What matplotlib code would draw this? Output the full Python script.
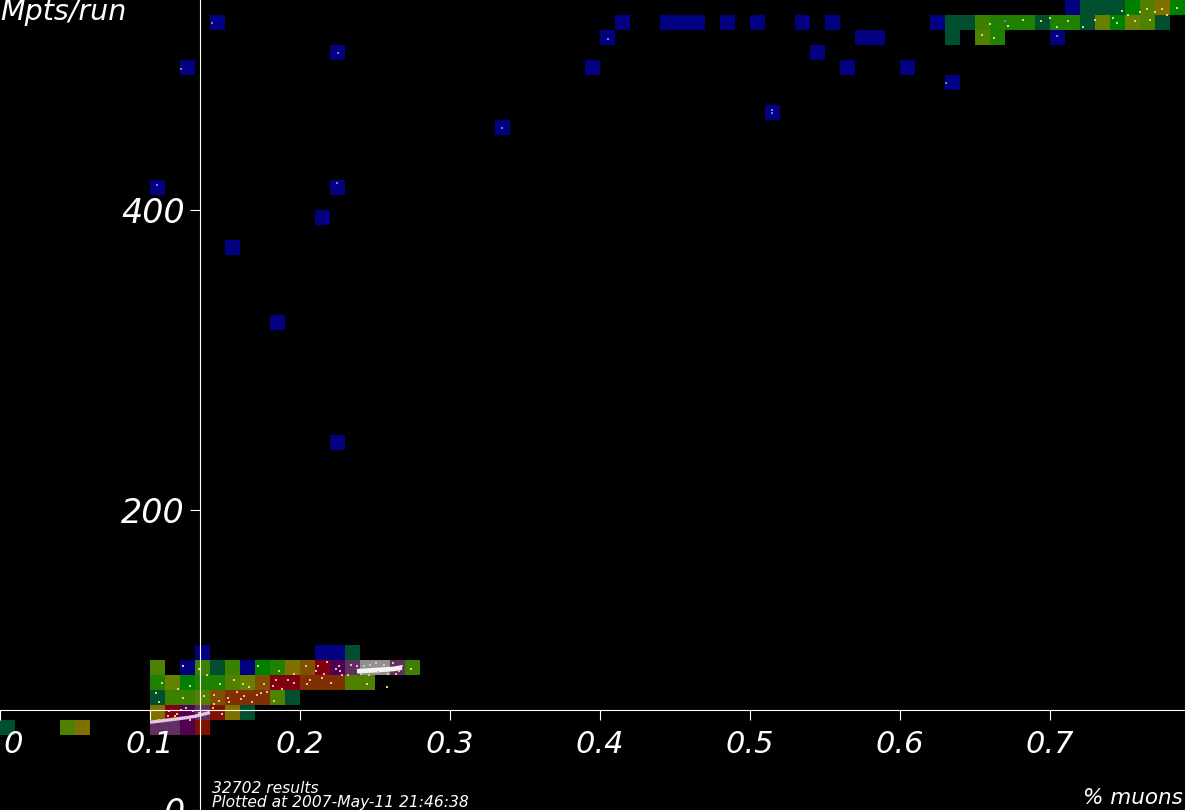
import matplotlib
matplotlib.use("Agg")
import matplotlib.pyplot as plt
import numpy as np
from matplotlib.colors import ListedColormap, BoundaryNorm

# density level -> colour
level_colors = ["#000080", "#005030", "#008000", "#208000", "#3c8000", "#508000", "#688000",
                "#807000", "#805000", "#803000", "#801000", "#800010", "#500050", "#603060", "#909090"]

# one entry per bin: left edge in % muons, lower edge in Mpts/run, density level
bin_muons = [0.14, 0.12, 0.22, 0.10, 0.22, 0.21, 0.15, 0.18, 0.22, 0.33, 0.51, 0.39, 0.40, 0.41,
             0.44, 0.45, 0.46, 0.48, 0.50, 0.53, 0.55, 0.54, 0.56, 0.57, 0.58, 0.60, 0.62, 0.63,
             0.70, 0.71,
             0.72, 0.73, 0.74, 0.75, 0.76, 0.77, 0.78,
             0.63, 0.64, 0.65, 0.66, 0.67, 0.68, 0.69, 0.70, 0.71, 0.72, 0.73, 0.74, 0.75, 0.76, 0.77,
             0.63, 0.65, 0.66,
             0.13, 0.21, 0.22, 0.23,
             0.10, 0.12, 0.13, 0.14, 0.15, 0.16, 0.17, 0.18, 0.19, 0.20, 0.21, 0.22, 0.23, 0.24, 0.25, 0.26, 0.27,
             0.10, 0.11, 0.12, 0.13, 0.14, 0.15, 0.16, 0.17, 0.18, 0.19, 0.20, 0.21, 0.22, 0.23, 0.24,
             0.10, 0.11, 0.12, 0.13, 0.14, 0.15, 0.16, 0.17, 0.18, 0.19,
             0.10, 0.11, 0.12, 0.13, 0.14, 0.15, 0.16,
             0.10, 0.11, 0.12, 0.13,
             0.00, 0.04, 0.05]
bin_mpts = [520, 490, 500, 410, 410, 390, 370, 320, 240, 450, 460, 490, 510, 520,
            520, 520, 520, 520, 520, 520, 520, 500, 490, 510, 510, 490, 520, 480,
            510, 530,
            530, 530, 530, 530, 530, 530, 530,
            520, 520, 520, 520, 520, 520, 520, 520, 520, 520, 520, 520, 520, 520, 520,
            510, 510, 510,
            100, 100, 100, 100,
            90, 90, 90, 90, 90, 90, 90, 90, 90, 90, 90, 90, 90, 90, 90, 90, 90,
            80, 80, 80, 80, 80, 80, 80, 80, 80, 80, 80, 80, 80, 80, 80,
            70, 70, 70, 70, 70, 70, 70, 70, 70, 70,
            60, 60, 60, 60, 60, 60, 60,
            50, 50, 50, 50,
            50, 50, 50]
bin_level = [1, 1, 1, 1, 1, 1, 1, 1, 1, 1, 1, 1, 1, 1,
             1, 1, 1, 1, 1, 1, 1, 1, 1, 1, 1, 1, 1, 1,
             1, 1,
             2, 2, 2, 3, 6, 8, 3,
             2, 2, 5, 4, 4, 4, 2, 4, 4, 2, 7, 3, 7, 6, 2,
             2, 6, 4,
             1, 1, 1, 2,
             6, 1, 5, 2, 5, 1, 3, 4, 8, 9, 12, 13, 14, 15, 15, 14, 5,
             4, 7, 3, 4, 4, 6, 7, 9, 12, 12, 10, 10, 10, 6, 6,
             2, 5, 5, 6, 9, 10, 10, 10, 6, 2,
             8, 12, 13, 14, 11, 8, 2,
             14, 14, 13, 11,
             2, 6, 8]

# bright streaks of dense points
streak_a_x = [0.100, 0.108, 0.116, 0.124, 0.130, 0.136, 0.140]
streak_a_y = [58.5, 59.5, 60.5, 61.5, 62.5, 64.0, 65.0]
streak_b_x = [0.238, 0.246, 0.254, 0.262, 0.268]
streak_b_y = [92.5, 93.0, 93.5, 94.0, 95.0]

# isolated points, warm ones lie in the red and purple bins
warm_x = [0.113, 0.117, 0.121, 0.127, 0.133, 0.118, 0.124, 0.129, 0.112, 0.146, 0.152, 0.143, 0.158, 0.163,
          0.171, 0.176, 0.168, 0.153, 0.161, 0.174, 0.184, 0.188, 0.196, 0.182, 0.192, 0.178, 0.205, 0.212,
          0.216, 0.224, 0.228, 0.234, 0.207, 0.215, 0.221, 0.226, 0.218, 0.211, 0.204, 0.227, 0.232, 0.238,
          0.243, 0.252, 0.256, 0.246, 0.264, 0.268, 0.262, 0.247, 0.259, 0.241, 0.251, 0.266, 0.142, 0.148]
warm_y = [66.0, 63.0, 67.0, 60.0, 65.0, 64.0, 68.0, 66.0, 63.0, 73.0, 75.0, 77.0, 79.0, 76.0,
          77.0, 84.0, 72.0, 72.0, 74.0, 78.0, 87.0, 81.0, 85.0, 83.0, 87.0, 79.0, 84.0, 96.0,
          91.0, 94.0, 90.0, 97.0, 87.0, 88.0, 85.0, 96.0, 99.0, 93.0, 96.0, 93.0, 90.0, 96.0,
          96.0, 92.0, 97.0, 90.0, 91.0, 96.0, 98.0, 97.0, 91.0, 91.0, 98.0, 93.0, 68.0, 64.0]
cool_x = [0.104, 0.108, 0.106, 0.119, 0.127, 0.133, 0.138, 0.147, 0.156, 0.166, 0.172, 0.186, 0.143, 0.136,
          0.122, 0.106, 0.116, 0.196, 0.245, 0.258, 0.274, 0.183, 0.122, 0.162,
          0.660, 0.670, 0.682, 0.700, 0.705, 0.730, 0.745, 0.752, 0.760, 0.765, 0.770, 0.775, 0.785,
          0.655, 0.663, 0.672, 0.694, 0.712, 0.722, 0.742, 0.757, 0.748, 0.767, 0.778]
cool_y = [78.0, 85.0, 72.0, 81.0, 83.0, 94.0, 90.0, 84.0, 87.0, 82.0, 96.0, 93.0, 71.0, 76.0,
          75.0, 60.0, 61.0, 91.0, 84.0, 82.0, 94.0, 73.0, 96.0, 84.0,
          524.0, 526.0, 527.0, 528.0, 522.0, 527.0, 525.0, 530.0, 532.0, 534.0, 532.0, 534.0, 535.0,
          517.0, 515.0, 523.0, 526.0, 526.0, 522.0, 528.0, 526.0, 533.0, 527.0, 530.0]
faint_x = [0.1412, 0.1205, 0.1050, 0.2250, 0.2255, 0.3350, 0.5150, 0.6305, 0.5150, 0.4050, 0.6700, 0.7050]
faint_y = [525.0, 494.0, 417.0, 418.0, 505.0, 455.0, 465.0, 485.0, 467.0, 514.0, 526.0, 516.0]

x_ticks = [0.0, 0.1, 0.2, 0.3, 0.4, 0.5, 0.6, 0.7]
x_tick_labels = ["0.0", "0.1", "0.2", "0.3", "0.4", "0.5", "0.6", "0.7"]
y_ticks = [0, 200, 400]

plt.rcParams["font.family"] = "DejaVu Sans"
fig = plt.figure(figsize=(11.85, 8.10), dpi=100, facecolor="black")
ax = fig.add_axes([0, 0, 1, 1], facecolor="black")

x_edges = np.arange(0, 0.80 + 1e-9, 0.01)
y_edges = np.arange(0, 550, 10)
grid = np.full((len(y_edges) - 1, len(x_edges) - 1), np.nan)
for m, p, l in zip(bin_muons, bin_mpts, bin_level):
    grid[int(round(p / 10)), int(round(m * 100))] = l
cmap = ListedColormap(level_colors)
norm = BoundaryNorm(np.arange(0.5, len(level_colors) + 1), cmap.N)
ax.pcolormesh(x_edges, y_edges, np.ma.masked_invalid(grid), cmap=cmap, norm=norm,
              antialiased=False, linewidth=0, zorder=1)

ax.plot(streak_a_x, streak_a_y, color="#e8c4e8", lw=2.4, zorder=2, solid_capstyle="butt")
ax.plot(streak_b_x, streak_b_y, color="#f4f4f4", lw=3.4, zorder=2, solid_capstyle="butt")
ax.scatter(warm_x, warm_y, s=1.1, color="#f0b8a8", marker="s", linewidths=0, zorder=2)
ax.scatter(cool_x, cool_y, s=1.1, color="#d0e070", marker="s", linewidths=0, zorder=2)
ax.scatter(faint_x, faint_y, s=0.8, color="#7080e0", marker="s", linewidths=0, zorder=2)

ax.set_xlim(0, 0.79)
ax.set_ylim(0, 540)
ax.spines["top"].set_visible(False)
ax.spines["right"].set_visible(False)
ax.spines["bottom"].set_position(("data", 66.67))
ax.spines["left"].set_position(("data", 0.1333))
for side in ("bottom", "left"):
    ax.spines[side].set_color("white")
    ax.spines[side].set_linewidth(0.8)
    ax.spines[side].set_zorder(5)
ax.set_xticks(x_ticks, x_tick_labels)
ax.set_yticks(y_ticks, [str(v) for v in y_ticks])
ax.tick_params(axis="x", direction="out", length=7.2, width=0.8, color="white", labelcolor="white",
               labelsize=22, pad=7)
ax.tick_params(axis="y", direction="out", length=7.2, width=0.8, color="white", labelcolor="white",
               labelsize=24, pad=3.5)
for t in ax.get_xticklabels() + ax.get_yticklabels():
    t.set_style("italic")

ax.text(0, 1 - 20 / 810, "Mpts/run", transform=ax.transAxes, ha="left", va="baseline", color="white",
        fontsize=20.5, style="italic")
ax.text(1183 / 1185, 1 - 804 / 810, "% muons", transform=ax.transAxes, ha="right", va="baseline",
        color="white", fontsize=15.5, style="italic")
ax.text(212 / 1185, 1 - 788.5 / 810, "32702 results", transform=ax.transAxes, ha="left", va="center",
        color="white", fontsize=11.2, style="italic")
ax.text(212 / 1185, 1 - 803 / 810, "Plotted at 2007-May-11 21:46:38", transform=ax.transAxes, ha="left",
        va="center", color="white", fontsize=11.2, style="italic")

fig.savefig("out.png", dpi=100, facecolor="black")
